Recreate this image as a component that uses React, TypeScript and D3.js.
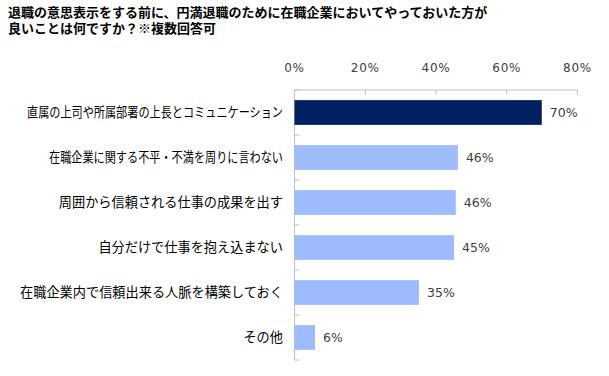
import React from "react";
import * as d3 from "d3";

const titleLines = [
  "退職の意思表示をする前に、円満退職のために在職企業においてやっておいた方が",
  "良いことは何ですか？※複数回答可",
];
const categories = [
  "直属の上司や所属部署の上長とコミュニケーション",
  "在職企業に関する不平・不満を周りに言わない",
  "周囲から信頼される仕事の成果を出す",
  "自分だけで仕事を抱え込まない",
  "在職企業内で信頼出来る人脈を構築しておく",
  "その他",
];
const values = [69.9, 46.2, 45.6, 45.1, 35.2, 5.8];
const valueLabels = ["70%", "46%", "46%", "45%", "35%", "6%"];
const ticks = [0, 20, 40, 60, 80];

const W = 609;
const H = 376;
const FONT = "'Noto Sans CJK JP', 'Noto Sans', sans-serif";
const NUM_FONT = "'DejaVu Sans', Verdana, sans-serif";
// fitted widths for the long labels (the original font has narrow katakana)
const labelFit: (number | null)[] = [256, 234, null, null, null, null];

export default function App() {
  const x = d3.scaleLinear().domain([0, 80]).range([294.5, 577.5]);
  const y = d3
    .scaleBand<number>()
    .domain(d3.range(categories.length))
    .range([90, 360])
    .paddingInner(0.45)
    .paddingOuter(0.225);
  const band = d3.scaleBand<number>().domain(d3.range(categories.length)).range([90, 360]);
  const axisColor = "#bfbfbf";
  return (
    <svg
      width={W}
      height={H}
      style={{ position: "absolute", left: 0, top: 0, background: "#fff" }}
      fontFamily={FONT}
    >
      <text x={8} y={17} fontSize={13} fontWeight="bold" fill="#000">
        {titleLines.map((t, i) => (
          <tspan key={i} x={8} dy={i === 0 ? 0 : 15.5}>
            {t}
          </tspan>
        ))}
      </text>
      {ticks.map((t) => (
        <g key={t}>
          <text
            x={x(t)}
            y={72}
            fontSize={12}
            fontFamily={NUM_FONT}
            textAnchor="middle"
            fill="#404040"
            letterSpacing={0.8}
          >
            {t}%
          </text>
          <line x1={x(t)} x2={x(t)} y1={90} y2={95} stroke={axisColor} />
        </g>
      ))}
      <line x1={x(0)} x2={x(80)} y1={90} y2={90} stroke={axisColor} />
      <line x1={x(0)} x2={x(0)} y1={90} y2={360} stroke={axisColor} />
      {d3.range(categories.length + 1).map((i) => {
        const yy = i < categories.length ? band(i)! : 360;
        return <line key={i} x1={x(0)} x2={x(0) + 5} y1={yy} y2={yy} stroke={axisColor} />;
      })}
      {categories.map((c, i) => {
        const cy = y(i)! + y.bandwidth() / 2;
        const fit = labelFit[i];
        return (
          <g key={c}>
            <rect
              x={x(0)}
              y={y(i)!}
              width={x(values[i]) - x(0)}
              height={y.bandwidth()}
              fill={i === 0 ? "#002060" : "#9dbbfd"}
            />
            <text
              x={283}
              y={cy}
              dy="0.35em"
              fontSize={13.2}
              textAnchor="end"
              fill="#000"
              {...(fit ? { textLength: fit, lengthAdjust: "spacingAndGlyphs" } : {})}
            >
              {c}
            </text>
            <text
              x={x(values[i]) + 8}
              y={cy}
              dy="0.35em"
              fontSize={12.5}
              fontFamily={NUM_FONT}
              fill="#404040"
            >
              {valueLabels[i]}
            </text>
          </g>
        );
      })}
    </svg>
  );
}
